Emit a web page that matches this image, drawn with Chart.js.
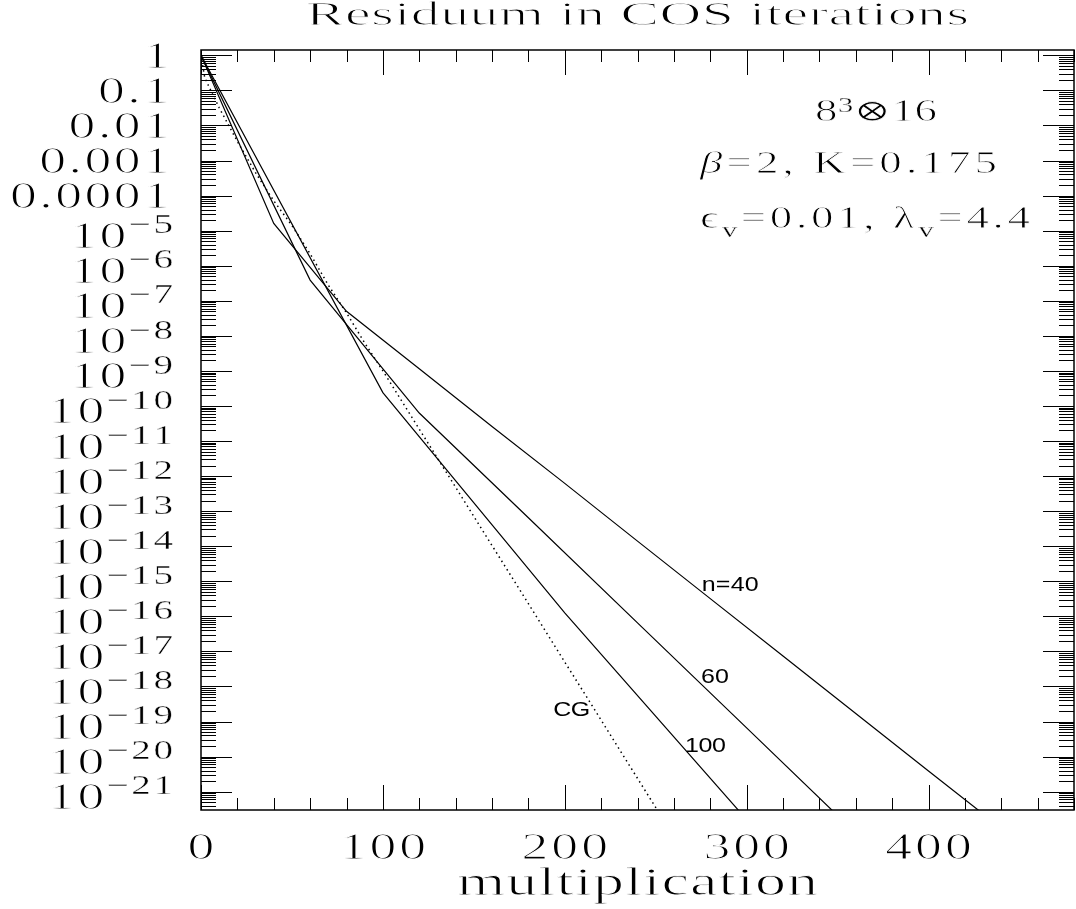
<!DOCTYPE html>
<html>
<head>
<meta charset="utf-8">
<title>Residuum in COS iterations</title>
<script src="https://cdn.jsdelivr.net/npm/chart.js@4.4.1/dist/chart.umd.min.js"></script>
<style>
  html, body { margin: 0; padding: 0; background: #fff; }
  #wrap { width: 1076px; height: 909px; position: relative; }
</style>
</head>
<body>
<div id="wrap"><canvas id="cosChart"></canvas></div>
<script>
// values (x = multiplications, y = residuum)
const n40X = [0, 40, 80, 120, 160, 200, 240, 280, 320, 360, 400, 440];
const n40Y = [1, 1.6e-5, 5.0e-8, 1.15e-9, 2.6e-11, 6.2e-13, 1.4e-14, 3.2e-16, 7.4e-18, 1.7e-19, 3.9e-21, 9.1e-23];

const n60X = [0, 60, 120, 180, 240, 300, 360];
const n60Y = [1, 3.9e-7, 6.3e-11, 6.5e-14, 6.5e-17, 6.6e-20, 6.6e-23];

const n100X = [0, 100, 200, 300];
const n100Y = [1, 2.4e-10, 1.26e-16, 1.6e-22];

const cgX = [0, 2, 4, 10, 20, 30, 40, 50, 60, 70, 80, 90, 100, 120, 140, 160, 180, 200, 220, 240, 260];
const cgY = [1, 0.24, 0.14, 3.2e-2, 3.5e-3, 4.5e-4, 7.1e-5, 1.4e-5, 2.2e-6, 2.8e-7, 4.5e-8, 6.3e-9, 1.0e-9,
             2.2e-11, 4.8e-13, 1.05e-14, 2.3e-16, 5.0e-18, 1.1e-19, 2.4e-21, 5.2e-23];

const xTickValues = [0, 100, 200, 300, 400];
const xTickLabels = ['0', '100', '200', '300', '400'];
const xMinorStep = 20;

const yTickValues = [1, 1e-1, 1e-2, 1e-3, 1e-4, 1e-5, 1e-6, 1e-7, 1e-8, 1e-9, 1e-10, 1e-11,
                     1e-12, 1e-13, 1e-14, 1e-15, 1e-16, 1e-17, 1e-18, 1e-19, 1e-20, 1e-21];
const yTickLabels = ['1', '0.1', '0.01', '0.001', '0.0001', '10^-5', '10^-6', '10^-7', '10^-8', '10^-9',
                     '10^-10', '10^-11', '10^-12', '10^-13', '10^-14', '10^-15', '10^-16', '10^-17',
                     '10^-18', '10^-19', '10^-20', '10^-21'];

const seriesLabels = ['n=40', '60', '100', 'CG'];

const X_MIN = 0, X_MAX = 480;
const Y_MIN = 3.1e-22, Y_MAX = 1.42;

const SERIF = "'Liberation Serif', 'DejaVu Serif', serif";
const SANS = "'Liberation Sans', Arial, sans-serif";

function pairs(xs, ys) {
  return xs.map((x, i) => ({ x: x, y: ys[i] }));
}

function xTicksAll() {
  const out = [];
  for (let v = X_MIN; v <= X_MAX; v += xMinorStep) {
    out.push({ value: v, major: xTickValues.includes(v) });
  }
  return out;
}

function yTicksAll() {
  const out = [];
  for (let k = -22; k <= 0; k++) {
    for (let m = 1; m <= 9; m++) {
      const v = m * Math.pow(10, k);
      if (v >= Y_MIN && v <= Y_MAX) out.push({ value: v, major: m === 1 });
    }
  }
  return out;
}

// draws text glyph by glyph, widened, then thinned with a white outline
// so it looks more like the light plotter lettering of the original
function drawRich(ctx, segs, x, y, o) {
  const list = [];
  const thin = o.thin === undefined ? 1 : o.thin;
  segs.forEach(seg => {
    const k = seg.k || 1;
    const size = Math.round(o.size * k);
    const font = (seg.style || '') + ' ' + size + 'px ' + (o.family || SERIF);
    ctx.font = font;
    for (const ch of seg.t) {
      list.push({ ch: ch, font: font, w: ctx.measureText(ch).width * o.stretch,
                  dy: (seg.dy || 0) * o.size, thin: thin * (k < 1 ? 0.4 : 1) });
    }
  });
  const sum = list.reduce((a, g) => a + g.w, 0);
  let sp = o.spacing || 0;
  if (o.targetW && list.length > 1) sp = (o.targetW - sum) / (list.length - 1);
  const total = sum + sp * (list.length - 1);
  let cx = x;
  if (o.align === 'center') cx = x - total / 2;
  else if (o.align === 'right') cx = x - total;
  ctx.textAlign = 'left';
  ctx.textBaseline = 'alphabetic';
  list.forEach(g => {
    ctx.save();
    ctx.font = g.font;
    ctx.translate(cx, y + g.dy);
    ctx.scale(o.stretch, 1);
    ctx.fillStyle = '#000';
    ctx.fillText(g.ch, 0, 0);
    if (g.thin > 0) {
      ctx.strokeStyle = '#fff';
      ctx.lineWidth = g.thin;
      ctx.strokeText(g.ch, 0, 0);
    }
    ctx.restore();
    cx += g.w + sp;
  });
}

const framePlugin = {
  id: 'frameAndText',
  afterDraw(chart) {
    const ctx = chart.ctx;
    const a = chart.chartArea;
    const xs = chart.scales.x, ys = chart.scales.y;
    ctx.save();

    // axis labels and texts first, frame and ticks on top
    xTickValues.forEach((v, i) => {
      drawRich(ctx, [{ t: xTickLabels[i] }], xs.getPixelForValue(v), 859,
        { size: 37, stretch: 1.45, spacing: 3, align: 'center' });
    });

    yTickValues.forEach((v, i) => {
      const py = ys.getPixelForValue(v);
      const lab = yTickLabels[i];
      if (lab.includes('^')) {
        const parts = lab.split('^');
        drawRich(ctx, [
          { t: parts[0] },
          { t: parts[1].replace('-', '\u2212'), k: 0.74, dy: -0.4 }
        ], 173, py + 17.5, { size: 37, stretch: 1.45, spacing: 2.5, align: 'right' });
      } else {
        drawRich(ctx, [{ t: lab }], 170, py + 12.5,
          { size: 37, stretch: 1.45, spacing: 2.5, align: 'right' });
      }
    });

    drawRich(ctx, [{ t: 'Residuum in COS iterations' }], (a.left + a.right) / 2, 25,
      { size: 34, stretch: 1.7, targetW: 663, align: 'center' });
    drawRich(ctx, [{ t: 'multiplication' }], (a.left + a.right) / 2, 895,
      { size: 40, stretch: 1.55, targetW: 361, align: 'center' });

    drawRich(ctx, [{ t: '8' }, { t: '3', k: 0.68, dy: -0.3 }, { t: '\u2297' }, { t: '16' }], 815, 121,
      { size: 31, stretch: 1.45, targetW: 122, align: 'left', thin: 0.8 });
    drawRich(ctx, [{ t: '\u03B2', style: 'italic' }, { t: '=2, K=0.175' }], 700, 173,
      { size: 31, stretch: 1.45, targetW: 297, align: 'left', thin: 0.8 });
    drawRich(ctx, [{ t: '\u03F5' }, { t: 'v', k: 0.68, dy: 0.3 }, { t: '=0.01, \u03BB' },
      { t: 'v', k: 0.68, dy: 0.3 }, { t: '=4.4' }], 700, 228,
      { size: 31, stretch: 1.45, targetW: 330, align: 'left', thin: 0.8 });

    // series labels, anchored in data coordinates
    const anchors = [
      { x: 275.3, y: 5.2e-16, w: 57 },
      { x: 274.9, y: 1.26e-18, w: 28 },
      { x: 266.1, y: 1.32e-20, w: 41 },
      { x: 193.7, y: 1.41e-19, w: 37 }
    ];
    seriesLabels.forEach((lab, i) => {
      const an = anchors[i];
      drawRich(ctx, [{ t: lab }], xs.getPixelForValue(an.x), ys.getPixelForValue(an.y),
        { size: 20, family: SANS, stretch: 1.25, targetW: an.w, align: 'left', thin: 0 });
    });

    ctx.strokeStyle = '#000';
    ctx.lineWidth = 1.5;
    ctx.strokeRect(a.left, a.top, a.right - a.left, a.bottom - a.top);

    // inward ticks on all four sides
    ctx.lineWidth = 1;
    ctx.beginPath();
    xTicksAll().forEach(t => {
      const px = Math.round(xs.getPixelForValue(t.value)) + 0.5;
      const len = t.major ? 25 : 12;
      ctx.moveTo(px, a.bottom); ctx.lineTo(px, a.bottom - len);
      ctx.moveTo(px, a.top); ctx.lineTo(px, a.top + len);
    });
    yTicksAll().forEach(t => {
      const py = Math.round(ys.getPixelForValue(t.value)) + 0.5;
      const len = t.major ? 31 : 15;
      ctx.moveTo(a.left, py); ctx.lineTo(a.left + len, py);
      ctx.moveTo(a.right, py); ctx.lineTo(a.right - len, py);
    });
    ctx.stroke();

    ctx.restore();
  }
};

const ctx = document.getElementById('cosChart').getContext('2d');

new Chart(ctx, {
  type: 'line',
  data: {
    datasets: [
      { label: seriesLabels[0], data: pairs(n40X, n40Y), borderColor: '#000', borderWidth: 1.2 },
      { label: seriesLabels[1], data: pairs(n60X, n60Y), borderColor: '#000', borderWidth: 1.2 },
      { label: seriesLabels[2], data: pairs(n100X, n100Y), borderColor: '#000', borderWidth: 1.2 },
      { label: seriesLabels[3], data: pairs(cgX, cgY), borderColor: '#000', borderWidth: 1.5, borderDash: [1.5, 3.5] }
    ]
  },
  options: {
    animation: false,
    responsive: true,
    maintainAspectRatio: false,
    layout: { padding: { left: 201, top: 50, right: 2, bottom: 99 } },
    elements: {
      point: { radius: 0, hoverRadius: 0 },
      line: { tension: 0, fill: false }
    },
    datasets: { line: { clip: 0 } },
    plugins: {
      legend: { display: false },
      title: { display: false },
      tooltip: { enabled: false }
    },
    scales: {
      x: {
        type: 'linear', min: X_MIN, max: X_MAX, display: false,
        afterBuildTicks: scale => { scale.ticks = xTicksAll(); }
      },
      y: {
        type: 'logarithmic', min: Y_MIN, max: Y_MAX, display: false,
        afterBuildTicks: scale => { scale.ticks = yTicksAll(); }
      }
    }
  },
  plugins: [framePlugin]
});
</script>
</body>
</html>
